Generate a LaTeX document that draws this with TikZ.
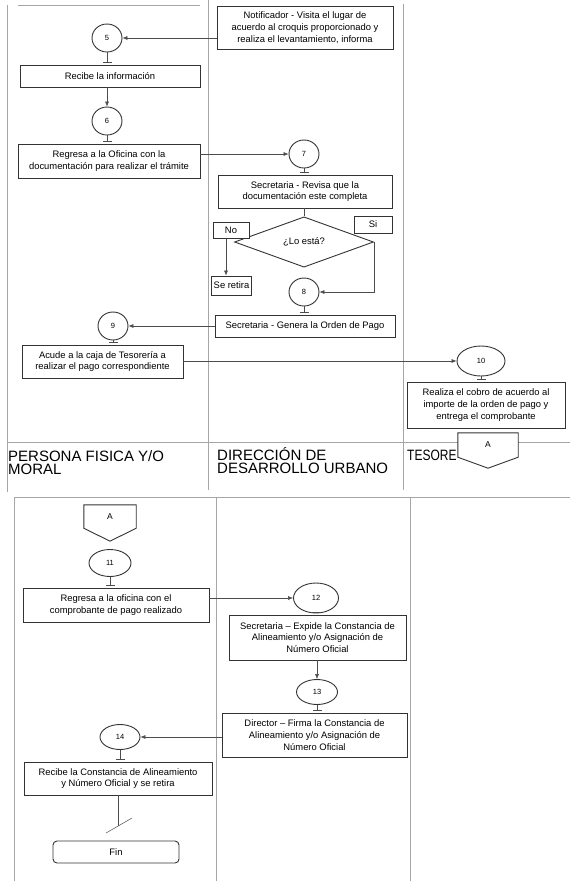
\documentclass[tikz,border=0pt]{standalone}
\usepackage{fontspec}
\setmainfont{Liberation Sans}
\usetikzlibrary{shapes.geometric, arrows.meta, positioning}

\begin{document}
\begin{tikzpicture}[
    x=1pt, y=-1pt,
    % Boxes of the flow
    proc/.style={
        rectangle, draw=black!80, line width=0.9pt, fill=white,
        align=center, inner sep=2pt,
        font=\fontsize{9.4}{11.8}\selectfont
    },
    conn/.style={
        ellipse, draw=black!80, line width=0.9pt, inner sep=0pt,
        font=\fontsize{7.5}{9}\selectfont
    },
    lane/.style={draw=gray!70, line width=0.6pt},
    lanelabel/.style={anchor=north west, align=left, inner sep=0pt,
        font=\fontsize{15}{13.5}\selectfont},
    flow/.style={draw=black!70, line width=0.5pt},
    arrow/.style={flow, -{Latex[length=5pt,width=4pt]}},
    tee/.style={flow, -{Bar[width=9pt]}, shorten >=2pt}
]
  \useasboundingbox (0,0) rectangle (570,881);

  % Top sheet: lanes and headers
  \draw[lane] (18,5) -- (200,5);
  \draw[lane] (7,5) -- (7,492);
  \draw[lane] (208,0) -- (208,490);
  \draw[lane] (403,4) -- (403,490);
  \draw[lane] (7,442) -- (570,442);
  \node[lanelabel] (lpers) at (8,450) {PERSONA FISICA Y/O\\MORAL};
  \node[lanelabel] (ldir) at (217,447) {DIRECCIÓN DE\\DESARROLLO URBANO};
  \node[lanelabel] (ltes) at (407,450) {\scalebox{0.8}[1]{TESORE}};

  % Top sheet: steps 5 to 10
  \node[proc, minimum width=176pt, minimum height=43pt] (notif) at (305,27.5)
    {Notificador - Visita el lugar de\\acuerdo al croquis proporcionado y\\realiza el levantamiento, informa};
  \node[conn, minimum width=30pt, minimum height=28pt] (c5) at (107,38) {5};
  \node[proc, minimum width=180pt, minimum height=22pt] (recibe) at (110,76) {Recibe la información};
  \node[conn, minimum width=30pt, minimum height=28pt] (c6) at (107,121) {6};
  \node[proc, minimum width=182pt, minimum height=34pt] (regresa) at (109,161)
    {Regresa a la Oficina con la\\documentación para realizar el trámite};
  \node[conn, minimum width=30pt, minimum height=28pt] (c7) at (304,154) {7};
  \node[proc, minimum width=174pt, minimum height=33pt] (revisa) at (305,191.5)
    {Secretaria - Revisa que la\\documentación este completa};
  \node[diamond, draw=black!80, line width=0.9pt, minimum width=139pt, minimum height=35pt,
        inner sep=0pt, font=\fontsize{9.4}{11}\selectfont] (dia) at (304,242) {¿Lo está?};
  \node[proc, minimum width=36pt, minimum height=16pt] (nobox) at (231,230) {No};
  \node[proc, minimum width=38pt, minimum height=17pt] (sibox) at (373,224.5) {Si};
  \node[proc, minimum width=37pt, minimum height=19pt] (retira) at (231.5,285.5) {Se retira};
  \node[conn, minimum width=30pt, minimum height=28pt] (c8) at (304,292) {8};
  \node[proc, minimum width=180pt, minimum height=22pt] (genera) at (305,326)
    {Secretaria - Genera la Orden de Pago};
  \node[conn, minimum width=30pt, minimum height=28pt] (c9) at (113,326) {9};
  \node[proc, minimum width=161pt, minimum height=33pt] (acude) at (102.5,361.5)
    {Acude a la caja de Tesorería a\\realizar el pago correspondiente};
  \node[conn, minimum width=48pt, minimum height=30pt] (c10) at (481,361) {10};
  \node[proc, minimum width=158pt, minimum height=46pt] (cobro) at (486,405)
    {Realiza el cobro de acuerdo al\\importe de la orden de pago y\\entrega el comprobante};

  % Off-page connector A (top sheet)
  \node[fill=white, minimum width=60pt, minimum height=24pt, inner sep=0pt,
        font=\fontsize{8.5}{10}\selectfont] (offa) at (488,445) {A};
  \draw[draw=black!80, line width=0.9pt] (offa.north west) -- (offa.north east) -- (offa.south east)
    -- ([yshift=-11pt]offa.south) -- (offa.south west) -- cycle;

  % Top sheet: connectors
  \draw[arrow] (notif.west |- c5.east) -- (c5.east);
  \draw[tee] (c5.south) -- (c5.south |- recibe.north);
  \draw[arrow] (recibe.south -| c6.north) -- (c6.north);
  \draw[tee] (c6.south) -- (c6.south |- regresa.north);
  \draw[arrow] (regresa.east |- c7.west) -- (c7.west);
  \draw[tee] (c7.south) -- (c7.south |- revisa.north);
  \draw[flow] (revisa.south -| dia.north) -- (dia.north);
  \draw[arrow] ([xshift=-5pt]nobox.south) -- ([xshift=-5pt]nobox.south |- retira.north);
  \draw[arrow] (dia.east) |- (c8.east);
  \draw[tee] (c8.south) -- (c8.south |- genera.north);
  \draw[arrow] (genera.west) -- (c9.east);
  \draw[tee] (c9.south) -- (c9.south |- acude.north);
  \draw[arrow] (acude.east |- c10.west) -- (c10.west);
  \draw[tee] (c10.south) -- (c10.south |- cobro.north);

  % Bottom sheet: lanes
  \draw[lane] (14,497) -- (570,497);
  \draw[lane] (14,497) -- (14,881);
  \draw[lane] (216,497) -- (216,881);
  \draw[lane] (410,497) -- (410,881);

  % Off-page connector A (bottom sheet)
  \node[minimum width=52pt, minimum height=23pt, inner sep=0pt,
        font=\fontsize{8.5}{10}\selectfont] (offb) at (110,516.5) {A};
  \draw[draw=black!80, line width=0.9pt] (offb.north west) -- (offb.north east) -- (offb.south east)
    -- ([yshift=-13pt]offb.south) -- (offb.south west) -- cycle;

  % Bottom sheet: steps 11 to 14
  \node[conn, minimum width=42pt, minimum height=27pt] (c11) at (110,563) {11};
  \node[proc, minimum width=186pt, minimum height=34pt] (regresb) at (116,605)
    {Regresa a la oficina con el\\comprobante de pago realizado};
  \node[conn, minimum width=45pt, minimum height=30pt] (c12) at (316,598) {12};
  \node[proc, minimum width=177pt, minimum height=45pt] (expide) at (317.5,637.5)
    {Secretaria – Expide la Constancia de\\Alineamiento y/o Asignación de\\Número Oficial};
  \node[conn, minimum width=41pt, minimum height=25pt] (c13) at (317,692) {13};
  \node[proc, minimum width=185pt, minimum height=44pt] (director) at (314.5,735)
    {Director – Firma la Constancia de\\Alineamiento y/o Asignación de\\Número Oficial};
  \node[conn, minimum width=40pt, minimum height=25pt] (c14) at (120,737) {14};
  \node[proc, minimum width=188pt, minimum height=33pt] (recibb) at (118,778.5)
    {Recibe la Constancia de Alineamiento\\y Número Oficial y se retira};
  \node[proc, rounded corners=4pt, minimum width=126pt, minimum height=22pt] (fin) at (116,852) {Fin};

  % Bottom sheet: connectors
  \draw[tee] (c11.south) -- (c11.south |- regresb.north);
  \draw[arrow] (regresb.east |- c12.west) -- (c12.west);
  \draw[tee] (c12.south) -- (c12.south |- expide.north);
  \draw[arrow] (expide.south -| c13.north) -- (c13.north);
  \draw[tee] (c13.south) -- (c13.south |- director.north);
  \draw[arrow] (director.west |- c14.east) -- (c14.east);
  \draw[tee] (c14.south) -- (c14.south |- recibb.north);
  \coordinate (brk) at (118,826);
  \draw[flow] (recibb.south -| brk) -- (brk);
  \draw[flow] (106,833) -- (132,818);

\end{tikzpicture}
\end{document}
